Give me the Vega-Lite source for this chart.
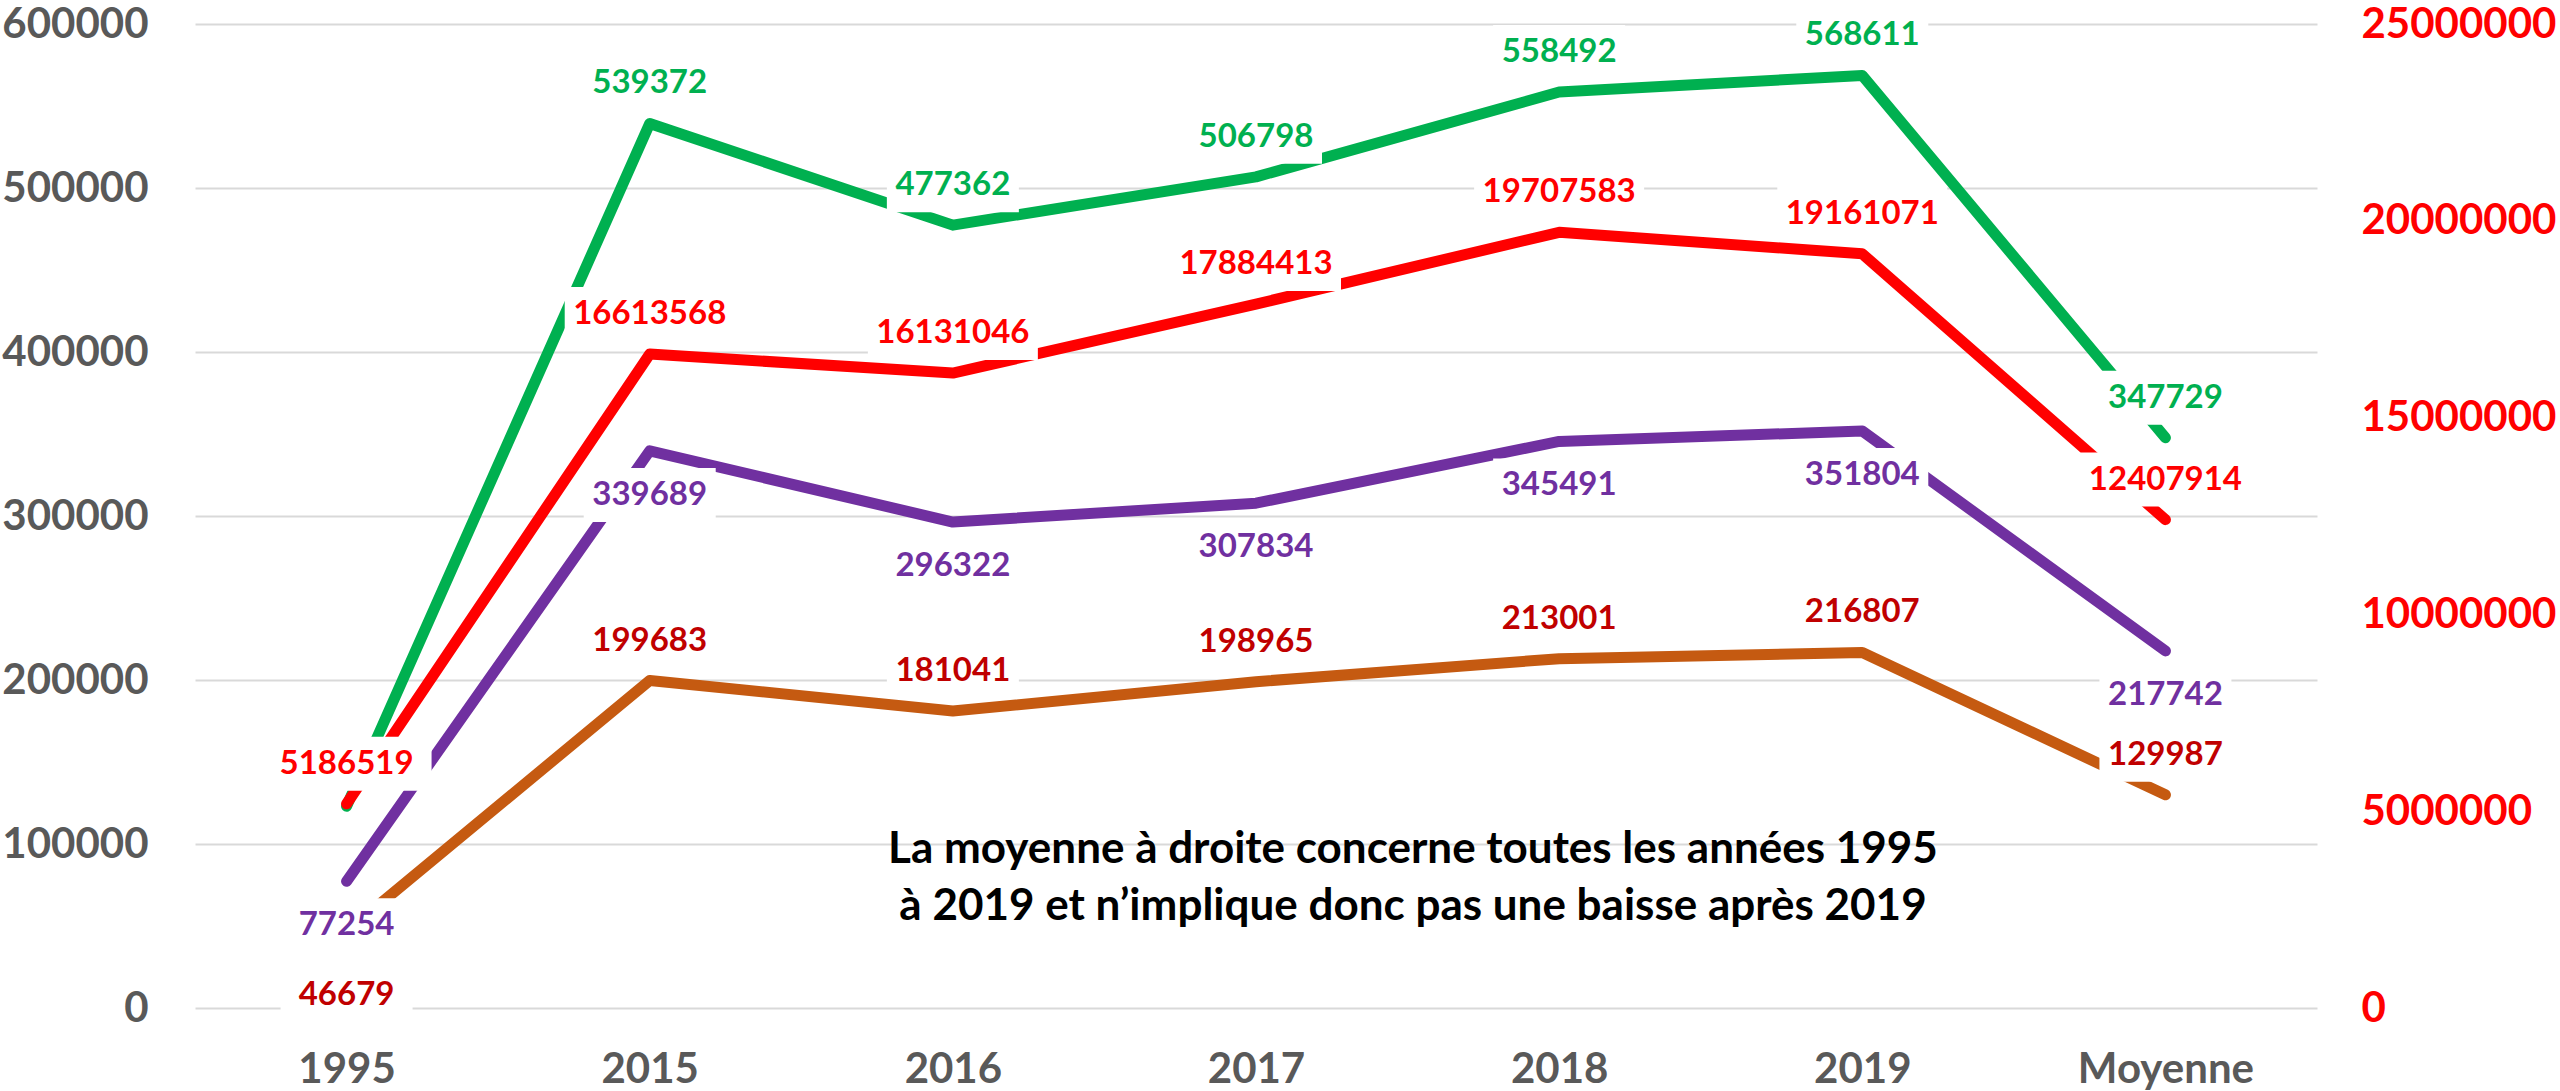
{
  "$schema": "https://vega.github.io/schema/vega-lite/v6.json",
  "autosize": {"type": "none"},
  "padding": {"left": 195, "top": 24, "right": 243, "bottom": 83},
  "width": 2122,
  "height": 984,
  "background": "white",
  "config": {"view": {"stroke": null}, "font": "Lato"},
  "datasets": {
    "main": [
      {"cat": "1995", "series": "green", "value": 123000},
      {"cat": "2015", "series": "green", "value": 539372},
      {"cat": "2016", "series": "green", "value": 477362},
      {"cat": "2017", "series": "green", "value": 506798},
      {"cat": "2018", "series": "green", "value": 558492},
      {"cat": "2019", "series": "green", "value": 568611},
      {"cat": "Moyenne", "series": "green", "value": 347729},
      {"cat": "1995", "series": "purple", "value": 77254},
      {"cat": "2015", "series": "purple", "value": 339689},
      {"cat": "2016", "series": "purple", "value": 296322},
      {"cat": "2017", "series": "purple", "value": 307834},
      {"cat": "2018", "series": "purple", "value": 345491},
      {"cat": "2019", "series": "purple", "value": 351804},
      {"cat": "Moyenne", "series": "purple", "value": 217742},
      {"cat": "1995", "series": "orange", "value": 46679},
      {"cat": "2015", "series": "orange", "value": 199683},
      {"cat": "2016", "series": "orange", "value": 181041},
      {"cat": "2017", "series": "orange", "value": 198965},
      {"cat": "2018", "series": "orange", "value": 213001},
      {"cat": "2019", "series": "orange", "value": 216807},
      {"cat": "Moyenne", "series": "orange", "value": 129987},
      {"cat": "1995", "series": "red", "value": 5186519},
      {"cat": "2015", "series": "red", "value": 16613568},
      {"cat": "2016", "series": "red", "value": 16131046},
      {"cat": "2017", "series": "red", "value": 17884413},
      {"cat": "2018", "series": "red", "value": 19707583},
      {"cat": "2019", "series": "red", "value": 19161071},
      {"cat": "Moyenne", "series": "red", "value": 12407914}
    ],
    "note": [
      {"text": "La moyenne à droite concerne toutes les années 1995\nà 2019 et n’implique donc pas une baisse après 2019"}
    ]
  },
  "layer": [
    {
      "data": {"name": "main"},
      "transform": [{"filter": "datum.series !== 'red'"}],
      "mark": {"type": "line", "strokeWidth": 11, "strokeCap": "round", "strokeJoin": "round"},
      "encoding": {
        "x": {
          "field": "cat", "type": "ordinal", "sort": null,
          "scale": {"type": "point", "padding": 0.5},
          "axis": {"orient": "bottom", "title": null, "labelAngle": 0, "labelPadding": 41, "ticks": false, "domain": false, "grid": false, "labelLimit": 600,
                   "labelFont": "Lato", "labelFontWeight": "bold", "labelFontSize": 42, "labelColor": "#595959"}
        },
        "y": {
          "field": "value", "type": "quantitative",
          "scale": {"domain": [0, 600000], "nice": false, "zero": true},
          "axis": {"orient": "left", "title": null, "values": [0, 100000, 200000, 300000, 400000, 500000, 600000], "format": "d",
                   "labelPadding": 47, "ticks": false, "domain": false, "grid": true, "gridColor": "#D9D9D9", "gridWidth": 2, "labelLimit": 600,
                   "labelFont": "Lato", "labelFontWeight": "bold", "labelFontSize": 42, "labelColor": "#595959"}
        },
        "color": {
          "field": "series", "type": "nominal",
          "scale": {"domain": ["green", "purple", "orange"], "range": ["#00B050", "#7030A0", "#C55A11"]},
          "legend": null
        }
      }
    },
    {
      "data": {"name": "main"},
      "transform": [{"filter": "datum.series === 'red'"}],
      "mark": {"type": "line", "strokeWidth": 11, "strokeCap": "round", "strokeJoin": "round", "color": "#FF0000"},
      "encoding": {
        "x": {"field": "cat", "type": "ordinal", "sort": null},
        "y": {
          "field": "value", "type": "quantitative",
          "scale": {"domain": [0, 25000000], "nice": false, "zero": true},
          "axis": {"orient": "right", "title": null, "values": [0, 5000000, 10000000, 15000000, 20000000, 25000000], "format": "d",
                   "labelPadding": 44, "ticks": false, "domain": false, "grid": false, "labelAlign": "left", "labelLimit": 600,
                   "labelFont": "Lato", "labelFontWeight": "bold", "labelFontSize": 42, "labelColor": "#FF0000"}
        }
      }
    },
    {
      "data": {"name": "main"},
      "transform": [{"filter": "datum.series !== 'red' && !(datum.series === 'green' && datum.cat === '1995')"}],
      "mark": {"type": "point", "filled": true, "fill": "white", "opacity": 1, "strokeWidth": 0, "size": 10000,
               "shape": "M-1.32,-0.54H1.32V0.54H-1.32Z",
               "yOffset": {"expr": "datum.series === 'purple' ? 44 : (datum.series === 'orange' && datum.cat === '1995' ? 64 : -40)"}},
      "encoding": {
        "x": {"field": "cat", "type": "ordinal", "sort": null},
        "y": {"field": "value", "type": "quantitative", "scale": {"domain": [0, 600000], "nice": false}, "axis": null}
      }
    },
    {
      "data": {"name": "main"},
      "transform": [{"filter": "datum.series !== 'red' && !(datum.series === 'green' && datum.cat === '1995')"}],
      "mark": {"type": "text", "font": "Lato", "fontWeight": "bold", "fontSize": 33, "baseline": "middle", "align": "center",
               "yOffset": {"expr": "datum.series === 'purple' ? 44 : (datum.series === 'orange' && datum.cat === '1995' ? 64 : -40)"}},
      "encoding": {
        "x": {"field": "cat", "type": "ordinal", "sort": null},
        "y": {"field": "value", "type": "quantitative", "scale": {"domain": [0, 600000], "nice": false}, "axis": null},
        "text": {"field": "value", "type": "quantitative", "format": "d"},
        "color": {
          "field": "series", "type": "nominal",
          "scale": {"domain": ["green", "purple", "orange"], "range": ["#00B050", "#7030A0", "#C00000"]},
          "legend": null
        }
      }
    },
    {
      "data": {"name": "main"},
      "transform": [{"filter": "datum.series === 'red'"}],
      "mark": {"type": "point", "filled": true, "fill": "white", "opacity": 1, "strokeWidth": 0, "size": 10000,
               "shape": "M-1.7,-0.54H1.7V0.54H-1.7Z", "yOffset": -40},
      "encoding": {
        "x": {"field": "cat", "type": "ordinal", "sort": null},
        "y": {"field": "value", "type": "quantitative", "scale": {"domain": [0, 25000000], "nice": false}, "axis": null}
      }
    },
    {
      "data": {"name": "main"},
      "transform": [{"filter": "datum.series === 'red'"}],
      "mark": {"type": "text", "font": "Lato", "fontWeight": "bold", "fontSize": 33, "baseline": "middle", "align": "center",
               "yOffset": -40, "color": "#FF0000"},
      "encoding": {
        "x": {"field": "cat", "type": "ordinal", "sort": null},
        "y": {"field": "value", "type": "quantitative", "scale": {"domain": [0, 25000000], "nice": false}, "axis": null},
        "text": {"field": "value", "type": "quantitative", "format": "d"}
      }
    },
    {
      "data": {"name": "note"},
      "mark": {"type": "text", "font": "Lato", "fontWeight": "bold", "fontSize": 44, "lineHeight": 57, "lineBreak": "\n",
               "align": "center", "baseline": "middle", "color": "#000000", "dx": 157},
      "encoding": {
        "x": {"datum": "2017", "type": "ordinal"},
        "y": {"datum": 96646, "type": "quantitative", "scale": {"domain": [0, 600000], "nice": false}, "axis": null},
        "text": {"field": "text", "type": "nominal"}
      }
    }
  ],
  "resolve": {"scale": {"y": "independent", "color": "independent"}}
}
